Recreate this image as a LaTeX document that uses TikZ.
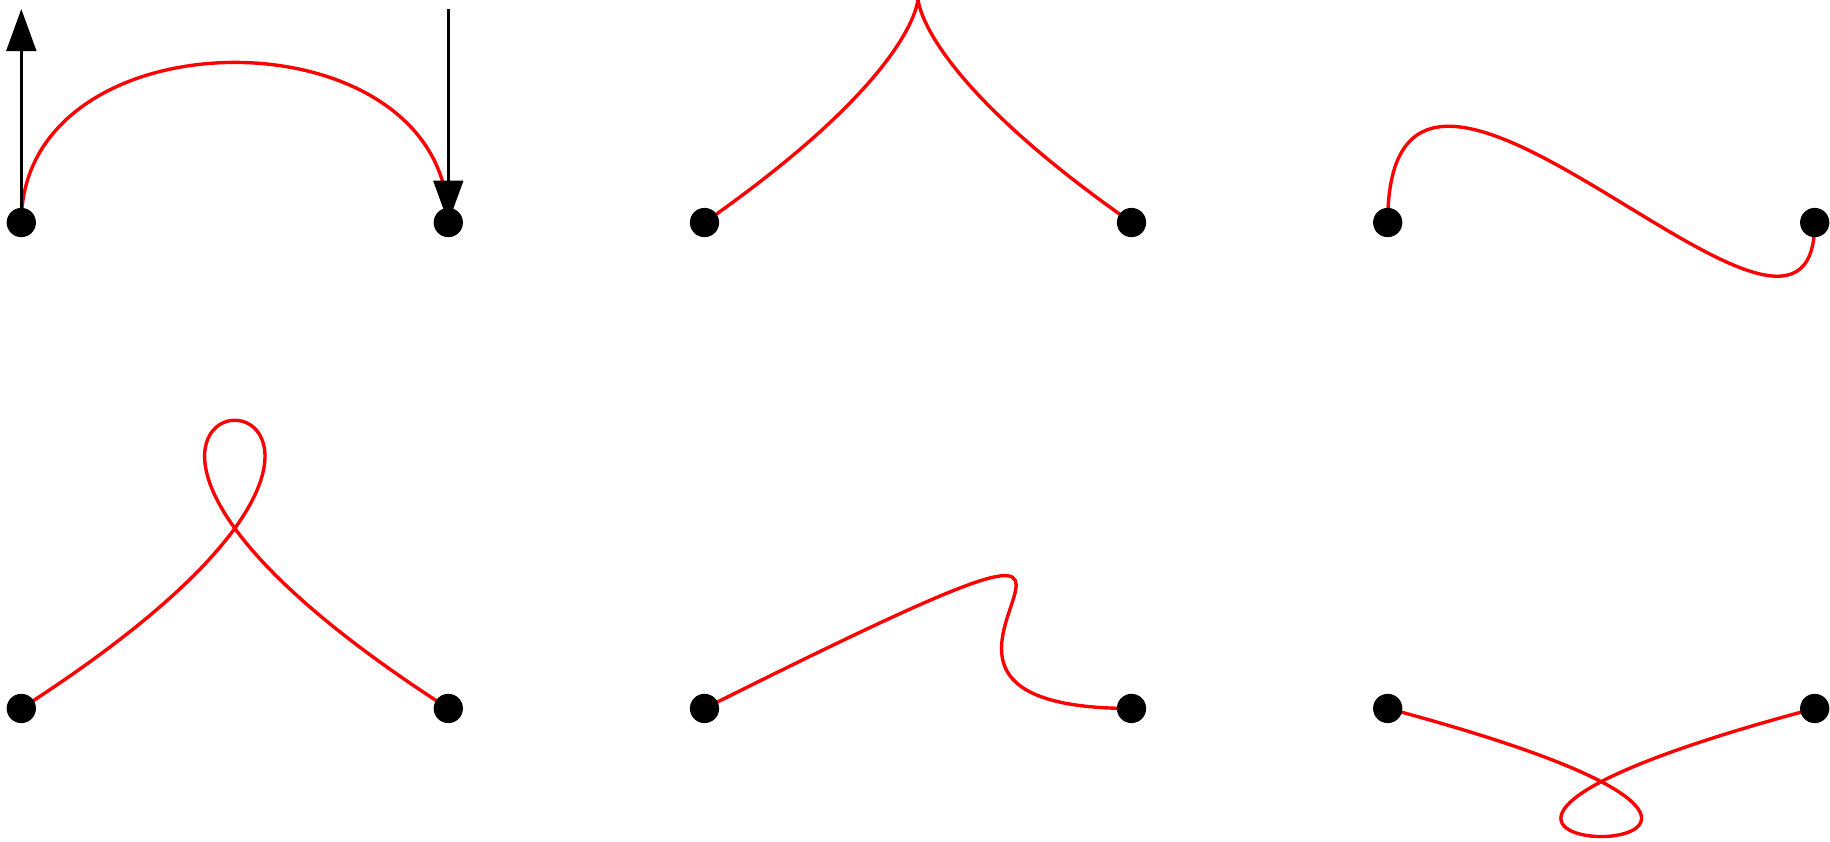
\documentclass[tikz,border=0pt]{standalone}
\usetikzlibrary{arrows.meta}
\begin{document}
\begin{tikzpicture}[x=4cm,y=4cm,
  curve/.style={draw=red, line width=0.9pt},
  ctrl/.style={draw=black, line width=0.85pt, -{Triangle[length=11.2pt,width=7.9pt]}},
  dot/.style={circle, fill=black, draw=none, inner sep=0pt, minimum size=7.8pt}]
\useasboundingbox (-0.0499,-1.4485) rectangle (4.2358,0.5211);
% panel 1
\begin{scope}[shift={(0,0)}]
  \coordinate (p1a) at (0,0); \coordinate (p1b) at (1,0);
  \coordinate (p1c) at (0,0.5); \coordinate (p1d) at (1,0.5);
  \draw[curve] (p1a) .. controls (p1c) and (p1d) .. (p1b);
  \draw[ctrl] (p1a) -- (p1c);
  \draw[ctrl] (p1d) -- (p1b);
  \node[dot] (n1a) at (p1a) {}; \node[dot] (n1b) at (p1b) {};
\end{scope}
% panel 2
\begin{scope}[shift={(1.6,0)}]
  \coordinate (p2a) at (0,0); \coordinate (p2b) at (1,0);
  \coordinate (p2c) at (1,0.7); \coordinate (p2d) at (0,0.7);
  \draw[curve] (p2a) .. controls (p2c) and (p2d) .. (p2b);
  \node[dot] (n2a) at (p2a) {}; \node[dot] (n2b) at (p2b) {};
\end{scope}
% panel 3
\begin{scope}[shift={(3.2,0)}]
  \coordinate (p3a) at (0,0); \coordinate (p3b) at (1,0);
  \coordinate (p3c) at (0,0.7); \coordinate (p3d) at (1,-0.5);
  \draw[curve] (p3a) .. controls (p3c) and (p3d) .. (p3b);
  \node[dot] (n3a) at (p3a) {}; \node[dot] (n3b) at (p3b) {};
\end{scope}
% panel 4
\begin{scope}[shift={(0,-1.138)}]
  \coordinate (p4a) at (0,0); \coordinate (p4b) at (1,0);
  \coordinate (p4c) at (1.4,0.9); \coordinate (p4d) at (-0.4,0.9);
  \draw[curve] (p4a) .. controls (p4c) and (p4d) .. (p4b);
  \node[dot] (n4a) at (p4a) {}; \node[dot] (n4b) at (p4b) {};
\end{scope}
% panel 5
\begin{scope}[shift={(1.6,-1.138)}]
  \coordinate (p5a) at (0,0); \coordinate (p5b) at (1,0);
  \coordinate (p5c) at (1.4,0.7); \coordinate (p5d) at (0.2,0);
  \draw[curve] (p5a) .. controls (p5c) and (p5d) .. (p5b);
  \node[dot] (n5a) at (p5a) {}; \node[dot] (n5b) at (p5b) {};
\end{scope}
% panel 6
\begin{scope}[shift={(3.2,-1.138)}]
  \coordinate (p6a) at (0,0); \coordinate (p6b) at (1,0);
  \coordinate (p6c) at (1.5,-0.4); \coordinate (p6d) at (-0.5,-0.4);
  \draw[curve] (p6a) .. controls (p6c) and (p6d) .. (p6b);
  \node[dot] (n6a) at (p6a) {}; \node[dot] (n6b) at (p6b) {};
\end{scope}
\end{tikzpicture}
\end{document}
